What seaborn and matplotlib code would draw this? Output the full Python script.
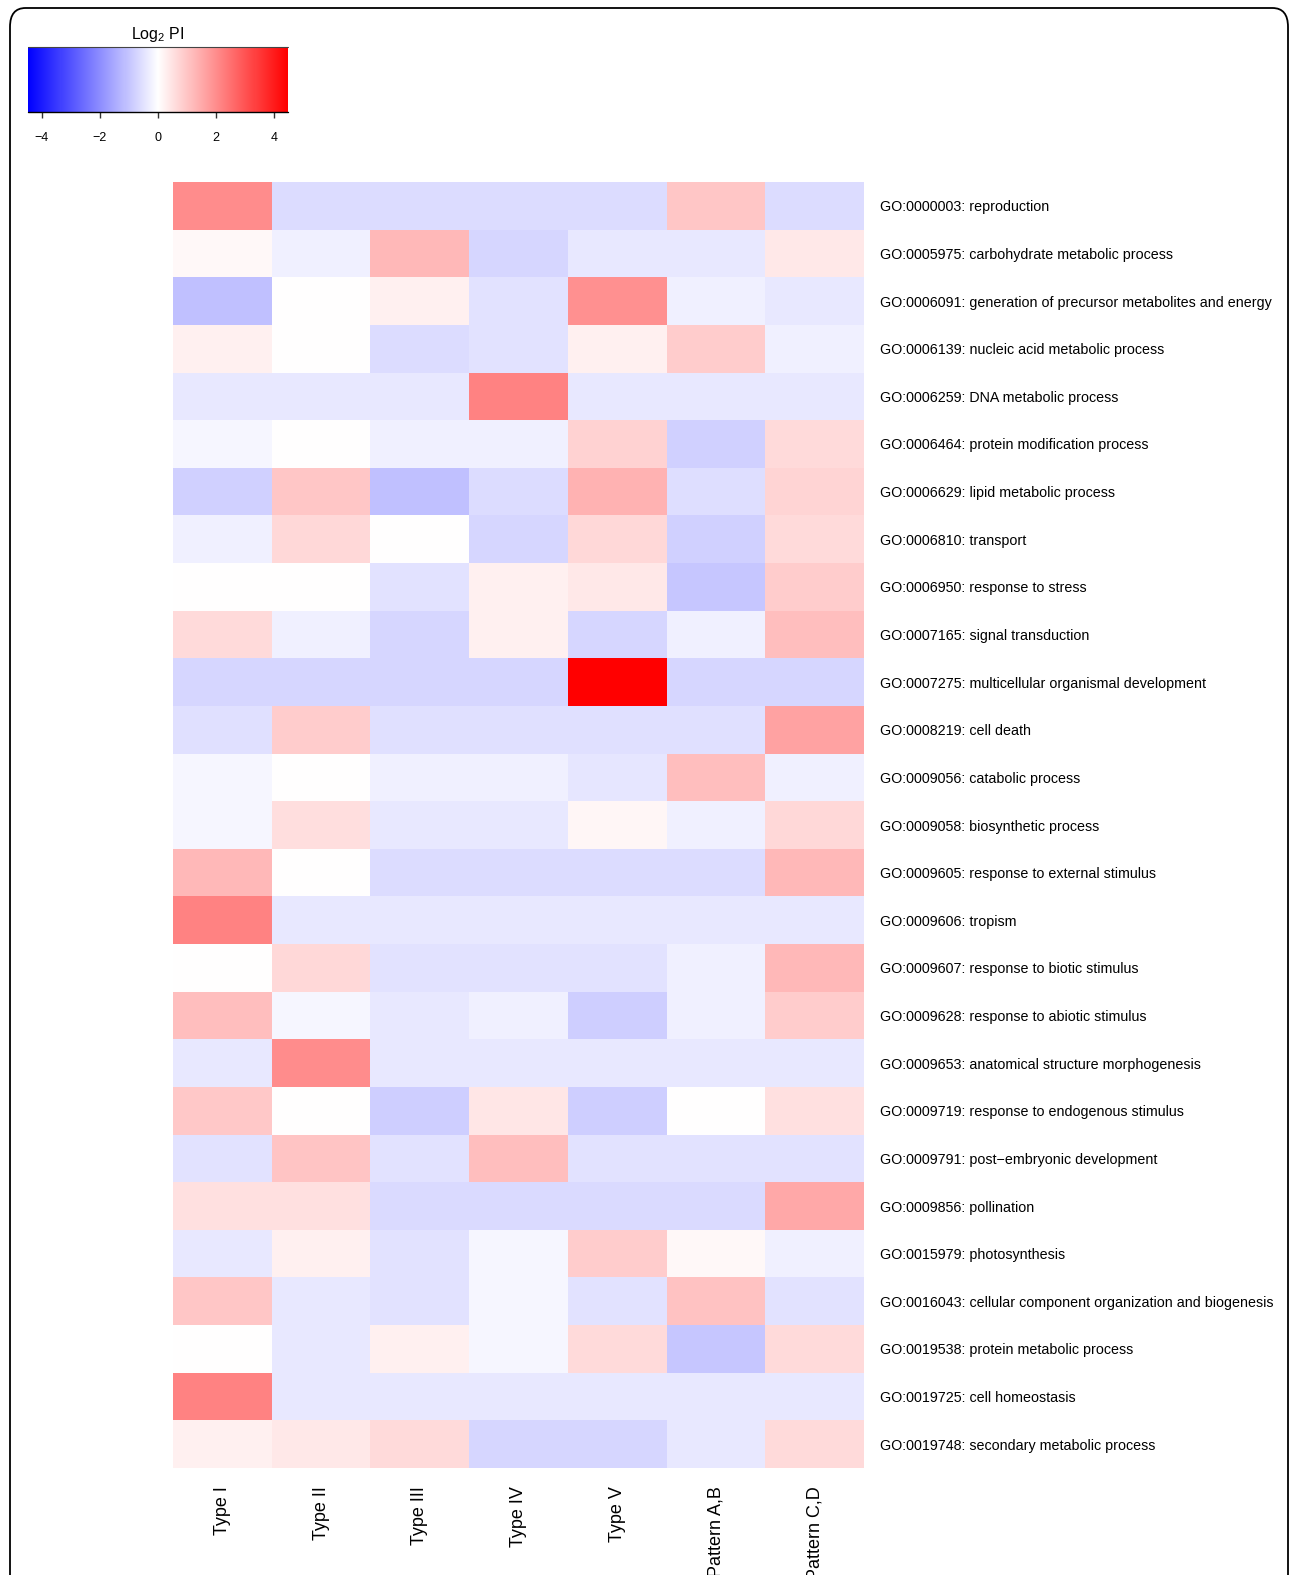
import numpy as np
import pandas as pd
import matplotlib
matplotlib.use("Agg")
import matplotlib.pyplot as plt
from matplotlib.colors import LinearSegmentedColormap
from matplotlib.patches import FancyBboxPatch
from matplotlib.lines import Line2D
import seaborn as sns

sns.set_style("white")
plt.rcParams["font.family"] = ["Liberation Sans", "DejaVu Sans"]
plt.rcParams["mathtext.default"] = "regular"
plt.rcParams["text.color"] = "black"
plt.rcParams["xtick.color"] = "black"
plt.rcParams["ytick.color"] = "black"

columns = ["Type I", "Type II", "Type III", "Type IV", "Type V", "Pattern A,B", "Pattern C,D"]

go_terms = [
    "GO:0000003: reproduction",
    "GO:0005975: carbohydrate metabolic process",
    "GO:0006091: generation of precursor metabolites and energy",
    "GO:0006139: nucleic acid metabolic process",
    "GO:0006259: DNA metabolic process",
    "GO:0006464: protein modification process",
    "GO:0006629: lipid metabolic process",
    "GO:0006810: transport",
    "GO:0006950: response to stress",
    "GO:0007165: signal transduction",
    "GO:0007275: multicellular organismal development",
    "GO:0008219: cell death",
    "GO:0009056: catabolic process",
    "GO:0009058: biosynthetic process",
    "GO:0009605: response to external stimulus",
    "GO:0009606: tropism",
    "GO:0009607: response to biotic stimulus",
    "GO:0009628: response to abiotic stimulus",
    "GO:0009653: anatomical structure morphogenesis",
    "GO:0009719: response to endogenous stimulus",
    "GO:0009791: post\u2212embryonic development",
    "GO:0009856: pollination",
    "GO:0015979: photosynthesis",
    "GO:0016043: cellular component organization and biogenesis",
    "GO:0019538: protein metabolic process",
    "GO:0019725: cell homeostasis",
    "GO:0019748: secondary metabolic process",
]

# log2 PI per GO term (rows) and class (columns)
type_i = [2.00, 0.12, -1.10, 0.27, -0.40, -0.15, -0.83, -0.26, 0.00, 0.65, -0.72, -0.55, -0.15, -0.15,
          1.24, 2.20, 0.00, 1.15, -0.40, 0.97, -0.50, 0.53, -0.40, 1.00, 0.00, 2.20, 0.27]
type_ii = [-0.62, -0.26, 0.00, 0.00, -0.40, 0.00, 1.00, 0.69, 0.00, -0.26, -0.72, 0.88, 0.00, 0.58,
           0.00, -0.40, 0.69, -0.15, 2.03, 0.00, 1.04, 0.53, 0.27, -0.40, -0.40, -0.40, 0.40]
type_iii = [-0.62, 1.24, 0.27, -0.62, -0.40, -0.26, -1.10, 0.00, -0.50, -0.72, -0.72, -0.55, -0.26, -0.40,
            -0.62, -0.40, -0.50, -0.40, -0.40, -0.86, -0.50, -0.65, -0.50, -0.50, 0.27, -0.40, 0.65]
type_iv = [-0.62, -0.72, -0.50, -0.50, 2.20, -0.26, -0.62, -0.72, 0.27, 0.27, -0.72, -0.55, -0.26, -0.40,
           -0.62, -0.40, -0.50, -0.26, -0.40, 0.44, 1.15, -0.65, -0.15, -0.15, -0.15, -0.40, -0.72]
type_v = [-0.62, -0.40, 1.95, 0.27, -0.40, 0.80, 1.36, 0.69, 0.40, -0.72, 4.48, -0.55, -0.44, 0.16,
          -0.62, -0.40, -0.50, -0.86, -0.40, -0.86, -0.50, -0.65, 0.88, -0.50, 0.65, -0.40, -0.72]
pattern_ab = [1.00, -0.40, -0.26, 0.88, -0.40, -0.83, -0.58, -0.83, -1.00, -0.26, -0.72, -0.55, 1.15, -0.26,
              -0.62, -0.40, -0.26, -0.26, -0.40, 0.00, -0.50, -0.65, 0.12, 1.06, -1.00, -0.40, -0.40]
pattern_cd = [-0.62, 0.40, -0.40, -0.26, -0.40, 0.65, 0.76, 0.65, 0.88, 1.15, -0.72, 1.64, -0.26, 0.69,
              1.24, -0.40, 1.24, 0.88, -0.40, 0.53, -0.50, 1.53, -0.26, -0.50, 0.65, -0.40, 0.65]

df = pd.DataFrame(
    np.column_stack([type_i, type_ii, type_iii, type_iv, type_v, pattern_ab, pattern_cd]),
    index=go_terms, columns=columns,
)

W, H = 1295, 1575
fig = plt.figure(figsize=(W / 100, H / 100), dpi=100)


def frac(x0, y0, x1, y1):
    return [x0 / W, 1 - y1 / H, (x1 - x0) / W, (y1 - y0) / H]


# rounded frame around the panel
frame = FancyBboxPatch((10 / W, -0.05), 1278 / W, (1575 - 8) / H + 0.05,
                       boxstyle="round,pad=0,rounding_size=0.012",
                       transform=fig.transFigure, fill=False, edgecolor="black",
                       linewidth=1.3, zorder=0)
fig.patches.append(frame)

cmap = LinearSegmentedColormap.from_list("bwr_lin", ["#0000FF", "#FFFFFF", "#FF0000"], N=256)
vmax = 4.48

ax = fig.add_axes(frac(173, 182, 864, 1468))
cax = fig.add_axes(frac(28, 47, 288, 112))

sns.heatmap(df, ax=ax, cmap=cmap, vmin=-vmax, vmax=vmax, cbar_ax=cax,
            cbar_kws={"orientation": "horizontal", "ticks": [-4, -2, 0, 2, 4]},
            linewidths=0)

ax.yaxis.tick_right()
ax.set_yticklabels(go_terms, rotation=0, ha="left", fontsize=10.3, color="black")
ax.tick_params(axis="y", length=0, pad=11.5)
ax.set_xticklabels(columns, rotation=90, ha="center", va="top", fontsize=13, color="black")
ax.tick_params(axis="x", length=0, pad=13)
ax.set_xlabel("")
ax.set_ylabel("")

# colour key: thin top edge, solid axis line below with ticks
cbar = ax.collections[0].colorbar
cbar.outline.set_visible(False)
cax.add_line(Line2D([0, 1], [1, 1], transform=cax.transAxes, color="#444444", lw=0.8, clip_on=False))
cax.add_line(Line2D([0, 1], [0, 0], transform=cax.transAxes, color="black", lw=1.0, clip_on=False))
cax.tick_params(axis="x", length=4.5, width=1.0, labelsize=9, pad=10, direction="out", color="#333333")
cax.set_xticklabels(["\u22124", "\u22122", "0", "2", "4"])
cax.set_title("Log$_2$ PI", fontsize=11.5, pad=6)

fig.savefig("out.png", dpi=100)
